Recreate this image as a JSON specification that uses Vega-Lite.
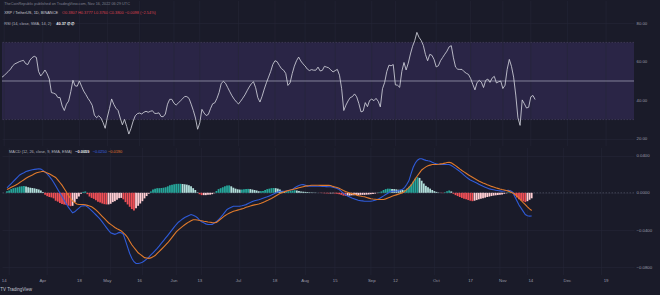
{
"$schema": "https://vega.github.io/schema/vega-lite/v6.json",
"background": "#1a1b29",
"padding": {"left": 0, "top": 0, "right": 0, "bottom": 4},
"spacing": 0,
"config": {
  "view": {"stroke": null},
  "font": "Liberation Sans",
  "axis": {"labelFont": "Liberation Sans", "labelFontSize": 4.3, "labelColor": "#9a9caa", "gridColor": "#252737", "gridWidth": 0.6, "domain": false, "ticks": false},
  "axisX": {"disable": true},
  "text": {"font": "Liberation Sans", "fontSize": 3.9}
},
"title": {"text": "TV TradingView", "orient": "bottom", "anchor": "start", "fontSize": 4.5, "fontWeight": "normal", "color": "#c3c5cf", "offset": 2, "font": "Liberation Sans"},
"datasets": {
"ticks": [
{"d":"2022-03-14","lab":"14"},{"d":"2022-04-01","lab":"Apr"},{"d":"2022-04-18","lab":"18"},{"d":"2022-05-01","lab":"May"},{"d":"2022-05-16","lab":"16"},{"d":"2022-06-01","lab":"Jun"},{"d":"2022-06-13","lab":"13"},{"d":"2022-07-01","lab":"Jul"},{"d":"2022-07-18","lab":"18"},{"d":"2022-08-01","lab":"Aug"},{"d":"2022-08-15","lab":"15"},{"d":"2022-09-01","lab":"Sep"},{"d":"2022-09-12","lab":"12"},{"d":"2022-10-01","lab":"Oct"},{"d":"2022-10-17","lab":"17"},{"d":"2022-11-01","lab":"Nov"},{"d":"2022-11-14","lab":"14"},{"d":"2022-12-01","lab":"Dec"},{"d":"2022-12-19","lab":"19"}
],
"xrp": [
{"t":"2022-03-13","r":52.0,"m":0.0054,"s":0.0035,"h":0.0017},
{"t":"2022-03-14","r":52.8,"m":0.0077,"s":0.0047,"h":0.0025},
{"t":"2022-03-15","r":54.0,"m":0.0100,"s":0.0059,"h":0.0040},
{"t":"2022-03-16","r":55.0,"m":0.0123,"s":0.0070,"h":0.0050},
{"t":"2022-03-17","r":56.2,"m":0.0146,"s":0.0082,"h":0.0055},
{"t":"2022-03-18","r":57.9,"m":0.0169,"s":0.0094,"h":0.0060},
{"t":"2022-03-19","r":58.9,"m":0.0192,"s":0.0111,"h":0.0068},
{"t":"2022-03-20","r":59.4,"m":0.0206,"s":0.0126,"h":0.0070},
{"t":"2022-03-21","r":60.0,"m":0.0217,"s":0.0141,"h":0.0072},
{"t":"2022-03-22","r":60.4,"m":0.0229,"s":0.0156,"h":0.0068},
{"t":"2022-03-23","r":60.7,"m":0.0236,"s":0.0169,"h":0.0060},
{"t":"2022-03-24","r":59.0,"m":0.0242,"s":0.0181,"h":0.0055},
{"t":"2022-03-25","r":58.5,"m":0.0248,"s":0.0192,"h":0.0052},
{"t":"2022-03-26","r":60.8,"m":0.0252,"s":0.0204,"h":0.0048},
{"t":"2022-03-27","r":62.1,"m":0.0255,"s":0.0215,"h":0.0042},
{"t":"2022-03-28","r":62.8,"m":0.0258,"s":0.0221,"h":0.0036},
{"t":"2022-03-29","r":62.2,"m":0.0255,"s":0.0226,"h":0.0025},
{"t":"2022-03-30","r":55.0,"m":0.0241,"s":0.0232,"h":0.0008},
{"t":"2022-03-31","r":52.6,"m":0.0223,"s":0.0223,"h":-0.0020},
{"t":"2022-04-01","r":54.0,"m":0.0203,"s":0.0214,"h":-0.0036},
{"t":"2022-04-02","r":55.7,"m":0.0178,"s":0.0205,"h":-0.0045},
{"t":"2022-04-03","r":53.7,"m":0.0148,"s":0.0192,"h":-0.0050},
{"t":"2022-04-04","r":51.0,"m":0.0114,"s":0.0178,"h":-0.0060},
{"t":"2022-04-05","r":44.0,"m":0.0075,"s":0.0165,"h":-0.0085},
{"t":"2022-04-06","r":43.7,"m":0.0036,"s":0.0140,"h":-0.0095},
{"t":"2022-04-07","r":43.2,"m":-0.0002,"s":0.0111,"h":-0.0110},
{"t":"2022-04-08","r":41.4,"m":-0.0040,"s":0.0083,"h":-0.0120},
{"t":"2022-04-09","r":41.4,"m":-0.0079,"s":0.0047,"h":-0.0126},
{"t":"2022-04-10","r":37.0,"m":-0.0118,"s":0.0011,"h":-0.0130},
{"t":"2022-04-11","r":34.7,"m":-0.0154,"s":-0.0028,"h":-0.0138},
{"t":"2022-04-12","r":38.0,"m":-0.0185,"s":-0.0059,"h":-0.0144},
{"t":"2022-04-13","r":39.6,"m":-0.0215,"s":-0.0090,"h":-0.0140},
{"t":"2022-04-14","r":44.5,"m":-0.0205,"s":-0.0105,"h":-0.0100},
{"t":"2022-04-15","r":50.4,"m":-0.0184,"s":-0.0121,"h":-0.0065},
{"t":"2022-04-16","r":47.5,"m":-0.0164,"s":-0.0126,"h":-0.0040},
{"t":"2022-04-17","r":47.3,"m":-0.0144,"s":-0.0126,"h":-0.0010},
{"t":"2022-04-18","r":50.0,"m":-0.0140,"s":-0.0126,"h":0.0010},
{"t":"2022-04-19","r":47.3,"m":-0.0138,"s":-0.0129,"h":0.0015},
{"t":"2022-04-20","r":44.8,"m":-0.0151,"s":-0.0135,"h":-0.0015},
{"t":"2022-04-21","r":43.0,"m":-0.0170,"s":-0.0141,"h":-0.0040},
{"t":"2022-04-22","r":41.0,"m":-0.0191,"s":-0.0151,"h":-0.0055},
{"t":"2022-04-23","r":39.4,"m":-0.0214,"s":-0.0166,"h":-0.0065},
{"t":"2022-04-24","r":37.3,"m":-0.0236,"s":-0.0183,"h":-0.0080},
{"t":"2022-04-25","r":32.3,"m":-0.0260,"s":-0.0206,"h":-0.0095},
{"t":"2022-04-26","r":31.0,"m":-0.0283,"s":-0.0229,"h":-0.0105},
{"t":"2022-04-27","r":32.0,"m":-0.0312,"s":-0.0253,"h":-0.0115},
{"t":"2022-04-28","r":30.9,"m":-0.0343,"s":-0.0276,"h":-0.0122},
{"t":"2022-04-29","r":28.5,"m":-0.0374,"s":-0.0299,"h":-0.0125},
{"t":"2022-04-30","r":25.5,"m":-0.0404,"s":-0.0322,"h":-0.0125},
{"t":"2022-05-01","r":31.3,"m":-0.0431,"s":-0.0339,"h":-0.0118},
{"t":"2022-05-02","r":35.7,"m":-0.0439,"s":-0.0356,"h":-0.0100},
{"t":"2022-05-03","r":40.7,"m":-0.0447,"s":-0.0373,"h":-0.0090},
{"t":"2022-05-04","r":37.9,"m":-0.0438,"s":-0.0386,"h":-0.0075},
{"t":"2022-05-05","r":35.9,"m":-0.0426,"s":-0.0398,"h":-0.0058},
{"t":"2022-05-06","r":34.7,"m":-0.0429,"s":-0.0410,"h":-0.0055},
{"t":"2022-05-07","r":30.8,"m":-0.0447,"s":-0.0430,"h":-0.0070},
{"t":"2022-05-08","r":27.3,"m":-0.0515,"s":-0.0452,"h":-0.0100},
{"t":"2022-05-09","r":30.1,"m":-0.0584,"s":-0.0480,"h":-0.0125},
{"t":"2022-05-10","r":26.5,"m":-0.0653,"s":-0.0520,"h":-0.0150},
{"t":"2022-05-11","r":22.5,"m":-0.0703,"s":-0.0559,"h":-0.0175},
{"t":"2022-05-12","r":25.4,"m":-0.0741,"s":-0.0588,"h":-0.0190},
{"t":"2022-05-13","r":29.2,"m":-0.0759,"s":-0.0617,"h":-0.0165},
{"t":"2022-05-14","r":32.0,"m":-0.0760,"s":-0.0645,"h":-0.0140},
{"t":"2022-05-15","r":33.1,"m":-0.0755,"s":-0.0662,"h":-0.0115},
{"t":"2022-05-16","r":33.4,"m":-0.0747,"s":-0.0680,"h":-0.0090},
{"t":"2022-05-17","r":32.9,"m":-0.0731,"s":-0.0697,"h":-0.0060},
{"t":"2022-05-18","r":33.8,"m":-0.0714,"s":-0.0701,"h":-0.0035},
{"t":"2022-05-19","r":34.3,"m":-0.0692,"s":-0.0705,"h":-0.0010},
{"t":"2022-05-20","r":33.8,"m":-0.0668,"s":-0.0700,"h":0.0015},
{"t":"2022-05-21","r":34.3,"m":-0.0645,"s":-0.0689,"h":0.0035},
{"t":"2022-05-22","r":34.6,"m":-0.0622,"s":-0.0675,"h":0.0045},
{"t":"2022-05-23","r":33.2,"m":-0.0598,"s":-0.0652,"h":0.0050},
{"t":"2022-05-24","r":33.2,"m":-0.0571,"s":-0.0629,"h":0.0050},
{"t":"2022-05-25","r":33.5,"m":-0.0542,"s":-0.0607,"h":0.0052},
{"t":"2022-05-26","r":31.6,"m":-0.0514,"s":-0.0584,"h":0.0055},
{"t":"2022-05-27","r":31.5,"m":-0.0485,"s":-0.0560,"h":0.0060},
{"t":"2022-05-28","r":32.9,"m":-0.0457,"s":-0.0537,"h":0.0070},
{"t":"2022-05-29","r":38.0,"m":-0.0428,"s":-0.0508,"h":0.0080},
{"t":"2022-05-30","r":40.5,"m":-0.0399,"s":-0.0479,"h":0.0088},
{"t":"2022-05-31","r":40.5,"m":-0.0370,"s":-0.0450,"h":0.0092},
{"t":"2022-06-01","r":38.5,"m":-0.0341,"s":-0.0420,"h":0.0096},
{"t":"2022-06-02","r":37.5,"m":-0.0316,"s":-0.0399,"h":0.0097},
{"t":"2022-06-03","r":38.6,"m":-0.0299,"s":-0.0380,"h":0.0097},
{"t":"2022-06-04","r":39.7,"m":-0.0281,"s":-0.0361,"h":0.0095},
{"t":"2022-06-05","r":40.8,"m":-0.0265,"s":-0.0343,"h":0.0092},
{"t":"2022-06-06","r":42.0,"m":-0.0254,"s":-0.0328,"h":0.0088},
{"t":"2022-06-07","r":41.9,"m":-0.0243,"s":-0.0313,"h":0.0080},
{"t":"2022-06-08","r":41.0,"m":-0.0234,"s":-0.0301,"h":0.0070},
{"t":"2022-06-09","r":38.0,"m":-0.0242,"s":-0.0290,"h":0.0050},
{"t":"2022-06-10","r":34.7,"m":-0.0251,"s":-0.0289,"h":0.0030},
{"t":"2022-06-11","r":30.8,"m":-0.0268,"s":-0.0293,"h":0.0005},
{"t":"2022-06-12","r":25.0,"m":-0.0294,"s":-0.0297,"h":-0.0015},
{"t":"2022-06-13","r":28.3,"m":-0.0311,"s":-0.0300,"h":-0.0025},
{"t":"2022-06-14","r":35.3,"m":-0.0323,"s":-0.0305,"h":-0.0025},
{"t":"2022-06-15","r":33.4,"m":-0.0334,"s":-0.0309,"h":-0.0025},
{"t":"2022-06-16","r":32.1,"m":-0.0341,"s":-0.0314,"h":-0.0022},
{"t":"2022-06-17","r":32.7,"m":-0.0341,"s":-0.0317,"h":-0.0020},
{"t":"2022-06-18","r":35.7,"m":-0.0340,"s":-0.0321,"h":-0.0015},
{"t":"2022-06-19","r":38.2,"m":-0.0324,"s":-0.0322,"h":-0.0005},
{"t":"2022-06-20","r":38.7,"m":-0.0309,"s":-0.0318,"h":0.0020},
{"t":"2022-06-21","r":41.0,"m":-0.0288,"s":-0.0300,"h":0.0040},
{"t":"2022-06-22","r":44.1,"m":-0.0265,"s":-0.0282,"h":0.0050},
{"t":"2022-06-23","r":48.8,"m":-0.0238,"s":-0.0264,"h":0.0060},
{"t":"2022-06-24","r":49.8,"m":-0.0207,"s":-0.0246,"h":0.0070},
{"t":"2022-06-25","r":48.8,"m":-0.0179,"s":-0.0232,"h":0.0078},
{"t":"2022-06-26","r":46.6,"m":-0.0167,"s":-0.0220,"h":0.0080},
{"t":"2022-06-27","r":44.4,"m":-0.0155,"s":-0.0209,"h":0.0070},
{"t":"2022-06-28","r":42.3,"m":-0.0144,"s":-0.0198,"h":0.0055},
{"t":"2022-06-29","r":40.6,"m":-0.0144,"s":-0.0192,"h":0.0045},
{"t":"2022-06-30","r":39.2,"m":-0.0144,"s":-0.0186,"h":0.0038},
{"t":"2022-07-01","r":38.1,"m":-0.0144,"s":-0.0180,"h":0.0035},
{"t":"2022-07-02","r":39.5,"m":-0.0139,"s":-0.0173,"h":0.0035},
{"t":"2022-07-03","r":41.1,"m":-0.0133,"s":-0.0165,"h":0.0038},
{"t":"2022-07-04","r":42.8,"m":-0.0127,"s":-0.0156,"h":0.0040},
{"t":"2022-07-05","r":44.9,"m":-0.0116,"s":-0.0149,"h":0.0042},
{"t":"2022-07-06","r":46.9,"m":-0.0105,"s":-0.0142,"h":0.0040},
{"t":"2022-07-07","r":48.6,"m":-0.0093,"s":-0.0135,"h":0.0035},
{"t":"2022-07-08","r":49.6,"m":-0.0086,"s":-0.0130,"h":0.0030},
{"t":"2022-07-09","r":46.5,"m":-0.0080,"s":-0.0125,"h":0.0025},
{"t":"2022-07-10","r":41.4,"m":-0.0074,"s":-0.0120,"h":0.0018},
{"t":"2022-07-11","r":39.1,"m":-0.0067,"s":-0.0112,"h":0.0018},
{"t":"2022-07-12","r":42.1,"m":-0.0059,"s":-0.0103,"h":0.0020},
{"t":"2022-07-13","r":45.8,"m":-0.0051,"s":-0.0094,"h":0.0030},
{"t":"2022-07-14","r":49.1,"m":-0.0043,"s":-0.0084,"h":0.0040},
{"t":"2022-07-15","r":52.0,"m":-0.0033,"s":-0.0072,"h":0.0045},
{"t":"2022-07-16","r":55.0,"m":-0.0023,"s":-0.0061,"h":0.0050},
{"t":"2022-07-17","r":58.6,"m":-0.0013,"s":-0.0048,"h":0.0052},
{"t":"2022-07-18","r":60.5,"m":-0.0002,"s":-0.0034,"h":0.0050},
{"t":"2022-07-19","r":60.0,"m":0.0009,"s":-0.0020,"h":0.0045},
{"t":"2022-07-20","r":58.1,"m":0.0017,"s":-0.0008,"h":0.0035},
{"t":"2022-07-21","r":56.4,"m":0.0017,"s":0.0001,"h":0.0020},
{"t":"2022-07-22","r":55.6,"m":0.0017,"s":0.0010,"h":0.0015},
{"t":"2022-07-23","r":53.9,"m":0.0018,"s":0.0018,"h":0.0015},
{"t":"2022-07-24","r":47.7,"m":0.0025,"s":0.0024,"h":0.0018},
{"t":"2022-07-25","r":49.0,"m":0.0030,"s":0.0030,"h":0.0020},
{"t":"2022-07-26","r":53.8,"m":0.0037,"s":0.0036,"h":0.0025},
{"t":"2022-07-27","r":57.7,"m":0.0054,"s":0.0042,"h":0.0028},
{"t":"2022-07-28","r":60.5,"m":0.0069,"s":0.0048,"h":0.0025},
{"t":"2022-07-29","r":62.4,"m":0.0078,"s":0.0054,"h":0.0020},
{"t":"2022-07-30","r":60.4,"m":0.0086,"s":0.0060,"h":0.0015},
{"t":"2022-07-31","r":58.9,"m":0.0088,"s":0.0066,"h":0.0012},
{"t":"2022-08-01","r":57.8,"m":0.0081,"s":0.0072,"h":0.0010},
{"t":"2022-08-02","r":56.2,"m":0.0072,"s":0.0075,"h":0.0008},
{"t":"2022-08-03","r":55.4,"m":0.0072,"s":0.0078,"h":0.0005},
{"t":"2022-08-04","r":55.9,"m":0.0072,"s":0.0082,"h":0.0004},
{"t":"2022-08-05","r":55.6,"m":0.0072,"s":0.0082,"h":0.0003},
{"t":"2022-08-06","r":55.6,"m":0.0072,"s":0.0081,"h":0.0002},
{"t":"2022-08-07","r":57.2,"m":0.0071,"s":0.0081,"h":0.0002},
{"t":"2022-08-08","r":55.2,"m":0.0070,"s":0.0080,"h":-0.0002},
{"t":"2022-08-09","r":55.5,"m":0.0069,"s":0.0080,"h":-0.0003},
{"t":"2022-08-10","r":57.6,"m":0.0068,"s":0.0080,"h":-0.0005},
{"t":"2022-08-11","r":57.2,"m":0.0067,"s":0.0080,"h":-0.0006},
{"t":"2022-08-12","r":56.8,"m":0.0066,"s":0.0080,"h":-0.0007},
{"t":"2022-08-13","r":55.7,"m":0.0065,"s":0.0078,"h":-0.0006},
{"t":"2022-08-14","r":54.7,"m":0.0061,"s":0.0069,"h":-0.0005},
{"t":"2022-08-15","r":55.4,"m":0.0054,"s":0.0063,"h":-0.0008},
{"t":"2022-08-16","r":56.0,"m":0.0047,"s":0.0057,"h":-0.0010},
{"t":"2022-08-17","r":53.0,"m":0.0035,"s":0.0049,"h":-0.0015},
{"t":"2022-08-18","r":46.0,"m":0.0016,"s":0.0037,"h":-0.0022},
{"t":"2022-08-19","r":34.7,"m":-0.0006,"s":0.0025,"h":-0.0030},
{"t":"2022-08-20","r":37.5,"m":-0.0022,"s":0.0014,"h":-0.0033},
{"t":"2022-08-21","r":39.7,"m":-0.0034,"s":0.0006,"h":-0.0032},
{"t":"2022-08-22","r":41.4,"m":-0.0045,"s":-0.0002,"h":-0.0030},
{"t":"2022-08-23","r":41.9,"m":-0.0056,"s":-0.0009,"h":-0.0027},
{"t":"2022-08-24","r":43.3,"m":-0.0064,"s":-0.0016,"h":-0.0025},
{"t":"2022-08-25","r":41.8,"m":-0.0072,"s":-0.0023,"h":-0.0024},
{"t":"2022-08-26","r":38.3,"m":-0.0080,"s":-0.0030,"h":-0.0023},
{"t":"2022-08-27","r":34.0,"m":-0.0084,"s":-0.0034,"h":-0.0022},
{"t":"2022-08-28","r":34.4,"m":-0.0087,"s":-0.0039,"h":-0.0022},
{"t":"2022-08-29","r":38.8,"m":-0.0090,"s":-0.0043,"h":-0.0022},
{"t":"2022-08-30","r":36.7,"m":-0.0090,"s":-0.0050,"h":-0.0020},
{"t":"2022-08-31","r":39.9,"m":-0.0090,"s":-0.0057,"h":-0.0018},
{"t":"2022-09-01","r":40.6,"m":-0.0090,"s":-0.0064,"h":-0.0015},
{"t":"2022-09-02","r":39.8,"m":-0.0085,"s":-0.0067,"h":-0.0012},
{"t":"2022-09-03","r":41.0,"m":-0.0079,"s":-0.0069,"h":-0.0008},
{"t":"2022-09-04","r":39.5,"m":-0.0073,"s":-0.0072,"h":-0.0003},
{"t":"2022-09-05","r":36.6,"m":-0.0061,"s":-0.0072,"h":0.0005},
{"t":"2022-09-06","r":46.0,"m":-0.0047,"s":-0.0072,"h":0.0015},
{"t":"2022-09-07","r":49.2,"m":-0.0033,"s":-0.0072,"h":0.0030},
{"t":"2022-09-08","r":54.9,"m":-0.0018,"s":-0.0065,"h":0.0040},
{"t":"2022-09-09","r":58.2,"m":-0.0004,"s":-0.0056,"h":0.0045},
{"t":"2022-09-10","r":57.9,"m":0.0011,"s":-0.0047,"h":0.0045},
{"t":"2022-09-11","r":58.5,"m":0.0017,"s":-0.0038,"h":0.0042},
{"t":"2022-09-12","r":48.0,"m":0.0017,"s":-0.0030,"h":0.0040},
{"t":"2022-09-13","r":47.8,"m":0.0017,"s":-0.0022,"h":0.0037},
{"t":"2022-09-14","r":46.7,"m":0.0021,"s":-0.0014,"h":0.0033},
{"t":"2022-09-15","r":55.0,"m":0.0030,"s":-0.0006,"h":0.0032},
{"t":"2022-09-16","r":59.6,"m":0.0038,"s":0.0002,"h":0.0030},
{"t":"2022-09-17","r":55.7,"m":0.0058,"s":0.0016,"h":0.0032},
{"t":"2022-09-18","r":59.3,"m":0.0092,"s":0.0037,"h":0.0045},
{"t":"2022-09-19","r":64.0,"m":0.0131,"s":0.0058,"h":0.0065},
{"t":"2022-09-20","r":68.0,"m":0.0206,"s":0.0082,"h":0.0090},
{"t":"2022-09-21","r":70.9,"m":0.0275,"s":0.0117,"h":0.0120},
{"t":"2022-09-22","r":75.2,"m":0.0321,"s":0.0152,"h":0.0150},
{"t":"2022-09-23","r":72.6,"m":0.0350,"s":0.0183,"h":0.0168},
{"t":"2022-09-24","r":71.0,"m":0.0366,"s":0.0214,"h":0.0160},
{"t":"2022-09-25","r":68.4,"m":0.0366,"s":0.0246,"h":0.0130},
{"t":"2022-09-26","r":63.7,"m":0.0357,"s":0.0263,"h":0.0100},
{"t":"2022-09-27","r":60.5,"m":0.0349,"s":0.0279,"h":0.0075},
{"t":"2022-09-28","r":63.8,"m":0.0344,"s":0.0290,"h":0.0060},
{"t":"2022-09-29","r":63.3,"m":0.0340,"s":0.0298,"h":0.0045},
{"t":"2022-09-30","r":61.1,"m":0.0329,"s":0.0304,"h":0.0030},
{"t":"2022-10-01","r":57.3,"m":0.0319,"s":0.0304,"h":0.0018},
{"t":"2022-10-02","r":57.9,"m":0.0312,"s":0.0304,"h":0.0010},
{"t":"2022-10-03","r":60.5,"m":0.0307,"s":0.0307,"h":0.0003},
{"t":"2022-10-04","r":62.2,"m":0.0304,"s":0.0311,"h":-0.0002},
{"t":"2022-10-05","r":63.9,"m":0.0304,"s":0.0314,"h":-0.0003},
{"t":"2022-10-06","r":65.5,"m":0.0304,"s":0.0319,"h":0.0005},
{"t":"2022-10-07","r":67.7,"m":0.0304,"s":0.0326,"h":0.0018},
{"t":"2022-10-08","r":68.3,"m":0.0304,"s":0.0328,"h":0.0025},
{"t":"2022-10-09","r":62.0,"m":0.0294,"s":0.0322,"h":0.0015},
{"t":"2022-10-10","r":57.2,"m":0.0279,"s":0.0308,"h":-0.0010},
{"t":"2022-10-11","r":56.1,"m":0.0263,"s":0.0292,"h":-0.0025},
{"t":"2022-10-12","r":56.0,"m":0.0248,"s":0.0275,"h":-0.0035},
{"t":"2022-10-13","r":56.0,"m":0.0231,"s":0.0257,"h":-0.0045},
{"t":"2022-10-14","r":54.8,"m":0.0211,"s":0.0240,"h":-0.0055},
{"t":"2022-10-15","r":54.0,"m":0.0191,"s":0.0225,"h":-0.0063},
{"t":"2022-10-16","r":53.4,"m":0.0171,"s":0.0210,"h":-0.0070},
{"t":"2022-10-17","r":51.3,"m":0.0154,"s":0.0195,"h":-0.0078},
{"t":"2022-10-18","r":48.3,"m":0.0138,"s":0.0180,"h":-0.0085},
{"t":"2022-10-19","r":45.4,"m":0.0127,"s":0.0167,"h":-0.0090},
{"t":"2022-10-20","r":49.2,"m":0.0116,"s":0.0153,"h":-0.0085},
{"t":"2022-10-21","r":50.3,"m":0.0105,"s":0.0140,"h":-0.0078},
{"t":"2022-10-22","r":49.4,"m":0.0093,"s":0.0128,"h":-0.0070},
{"t":"2022-10-23","r":46.6,"m":0.0082,"s":0.0117,"h":-0.0065},
{"t":"2022-10-24","r":50.3,"m":0.0070,"s":0.0106,"h":-0.0058},
{"t":"2022-10-25","r":51.0,"m":0.0061,"s":0.0097,"h":-0.0052},
{"t":"2022-10-26","r":49.3,"m":0.0052,"s":0.0087,"h":-0.0045},
{"t":"2022-10-27","r":51.5,"m":0.0042,"s":0.0078,"h":-0.0040},
{"t":"2022-10-28","r":52.4,"m":0.0037,"s":0.0069,"h":-0.0035},
{"t":"2022-10-29","r":49.0,"m":0.0033,"s":0.0062,"h":-0.0030},
{"t":"2022-10-30","r":49.6,"m":0.0028,"s":0.0054,"h":-0.0027},
{"t":"2022-10-31","r":50.0,"m":0.0024,"s":0.0048,"h":-0.0024},
{"t":"2022-11-01","r":46.1,"m":0.0021,"s":0.0041,"h":-0.0020},
{"t":"2022-11-02","r":47.8,"m":0.0017,"s":0.0035,"h":-0.0018},
{"t":"2022-11-03","r":56.0,"m":0.0020,"s":0.0030,"h":-0.0010},
{"t":"2022-11-04","r":61.2,"m":0.0024,"s":0.0024,"h":-0.0005},
{"t":"2022-11-05","r":57.6,"m":0.0028,"s":0.0018,"h":0.0005},
{"t":"2022-11-06","r":52.0,"m":0.0022,"s":0.0008,"h":0.0008},
{"t":"2022-11-07","r":42.7,"m":0.0007,"s":-0.0003,"h":0.0005},
{"t":"2022-11-08","r":31.0,"m":-0.0040,"s":-0.0014,"h":-0.0030},
{"t":"2022-11-09","r":27.0,"m":-0.0085,"s":-0.0034,"h":-0.0050},
{"t":"2022-11-10","r":40.2,"m":-0.0131,"s":-0.0057,"h":-0.0070},
{"t":"2022-11-11","r":38.2,"m":-0.0165,"s":-0.0081,"h":-0.0082},
{"t":"2022-11-12","r":36.0,"m":-0.0200,"s":-0.0105,"h":-0.0092},
{"t":"2022-11-13","r":36.4,"m":-0.0234,"s":-0.0127,"h":-0.0100},
{"t":"2022-11-14","r":41.8,"m":-0.0246,"s":-0.0151,"h":-0.0090},
{"t":"2022-11-15","r":42.5,"m":-0.0251,"s":-0.0173,"h":-0.0075},
{"t":"2022-11-16","r":40.4,"m":-0.0250,"s":-0.0190,"h":-0.0059}
]
},
"vconcat": [
{
  "width": 632,
  "height": 145,
  "layer": [
    {
      "data": {"values": [{}]},
      "mark": {"type": "rect", "color": "#2a2546"},
      "encoding": {"y": {"datum": 30, "type": "quantitative"}, "y2": {"datum": 70}}
    },
    {
      "data": {"name": "ticks"},
      "mark": {"type": "rule", "color": "#252737", "strokeWidth": 0.6},
      "encoding": {
        "x": {"field": "d", "type": "temporal",
              "scale": {"type": "utc", "domain": [{"year": 2022, "month": 3, "date": 13, "utc": true}, {"year": 2023, "month": 1, "date": 1, "utc": true}]},
              "axis": null}
      }
    },
    {
      "data": {"values": [{}]},
      "mark": {"type": "rule", "color": "#4d4866", "strokeWidth": 0.6, "strokeDash": [1.5, 1.5]},
      "encoding": {"y": {"datum": 70, "type": "quantitative",
              "scale": {"domain": [16.32, 91.45], "nice": false, "zero": false},
              "axis": {"orient": "right", "title": null, "values": [20, 30, 40, 50, 60, 70, 80, 86.27], "labelExpr": "datum.value > 85 ? 'USDT' : format(datum.value, '.2f')", "labelPadding": 2, "minExtent": 28, "maxExtent": 28, "grid": true}}}
    },
    {
      "data": {"values": [{}]},
      "mark": {"type": "rule", "color": "#4d4866", "strokeWidth": 0.6, "strokeDash": [1.5, 1.5]},
      "encoding": {"y": {"datum": 30, "type": "quantitative"}}
    },
    {
      "data": {"values": [{}]},
      "mark": {"type": "rule", "color": "#9c9cb0", "strokeWidth": 0.8},
      "encoding": {"y": {"datum": 50, "type": "quantitative"}}
    },
    {
      "data": {"name": "xrp"},
      "mark": {"type": "line", "color": "#d0d1da", "strokeWidth": 0.85},
      "encoding": {"x": {"field": "t", "type": "temporal", "axis": null}, "y": {"field": "r", "type": "quantitative"}}
    },
    {
      "data": {"values": [{"txt": "TheCoinRepublic published on TradingView.com, Nov 16, 2022 06:29 UTC"}]},
      "mark": {"type": "text", "align": "left", "baseline": "middle", "color": "#7f828f", "fontSize": 3.8},
      "encoding": {"x": {"datum": {"year": 2022, "month": 3, "date": 14, "utc": true}, "type": "temporal", "axis": null}, "y": {"datum": 89.9, "type": "quantitative"}, "text": {"field": "txt"}}
    },
    {
      "data": {"values": [{"txt": "XRP / TetherUS, 1D, BINANCE"}]},
      "mark": {"type": "text", "align": "left", "baseline": "middle", "color": "#c8cad3"},
      "encoding": {"x": {"datum": {"year": 2022, "month": 3, "date": 14, "utc": true}, "type": "temporal", "axis": null}, "y": {"datum": 85.2, "type": "quantitative"}, "text": {"field": "txt"}}
    },
    {
      "data": {"values": [{"txt": "O0.3807  H0.3777  L0.3760  C0.3800  −0.0098 (−2.54%)"}]},
      "mark": {"type": "text", "align": "left", "baseline": "middle", "color": "#d9404e"},
      "encoding": {"x": {"datum": {"year": 2022, "month": 4, "date": 9, "hours": 22, "utc": true}, "type": "temporal", "axis": null}, "y": {"datum": 85.2, "type": "quantitative"}, "text": {"field": "txt"}}
    },
    {
      "data": {"values": [{"txt": "RSI (14, close, SMA, 14, 2)"}]},
      "mark": {"type": "text", "align": "left", "baseline": "middle", "color": "#b0b2bd"},
      "encoding": {"x": {"datum": {"year": 2022, "month": 3, "date": 14, "utc": true}, "type": "temporal", "axis": null}, "y": {"datum": 79.5, "type": "quantitative"}, "text": {"field": "txt"}}
    },
    {
      "data": {"values": [{"txt": "40.37  ∅  ∅"}]},
      "mark": {"type": "text", "align": "left", "baseline": "middle", "color": "#e8e9ee", "fontWeight": "bold"},
      "encoding": {"x": {"datum": {"year": 2022, "month": 4, "date": 7, "hours": 6, "utc": true}, "type": "temporal", "axis": null}, "y": {"datum": 79.5, "type": "quantitative"}, "text": {"field": "txt"}}
    }
  ]
},
{
  "width": 632,
  "height": 127,
  "layer": [
    {
      "data": {"name": "ticks"},
      "mark": {"type": "rule", "color": "#252737", "strokeWidth": 0.6},
      "encoding": {
        "x": {"field": "d", "type": "temporal",
              "scale": {"type": "utc", "domain": [{"year": 2022, "month": 3, "date": 13, "utc": true}, {"year": 2023, "month": 1, "date": 1, "utc": true}]},
              "axis": null}
      }
    },
    {
      "data": {"values": [{}]},
      "mark": {"type": "rule", "color": "#5d6070", "strokeWidth": 0.6, "strokeDash": [1.5, 1.5]},
      "encoding": {"y": {"datum": 0, "type": "quantitative", "scale": {"domain": [-0.0884, 0.0482], "nice": false, "zero": false},
              "axis": {"orient": "right", "title": null, "values": [-0.08, -0.06, -0.04, -0.02, 0, 0.02, 0.04], "format": ".4f", "labelPadding": 2, "minExtent": 28, "maxExtent": 28, "grid": true}}}
    },
    {
      "data": {"name": "xrp"},
      "transform": [{"window": [{"op": "lag", "field": "h", "as": "hp"}], "sort": [{"field": "t"}]}],
      "mark": {"type": "bar", "size": 1.8},
      "encoding": {
        "x": {"field": "t", "type": "temporal", "axis": null},
        "y": {"field": "h", "type": "quantitative"},
        "color": {"condition": [
            {"test": "datum.h >= 0 && (datum.hp == null || datum.h >= datum.hp)", "value": "#26a69a"},
            {"test": "datum.h >= 0", "value": "#b2dfdb"},
            {"test": "datum.h < datum.hp", "value": "#f04f56"}
          ], "value": "#ffcdd2"}
      }
    },
    {
      "data": {"name": "xrp"},
      "mark": {"type": "line", "color": "#2f5bd8", "strokeWidth": 1.1},
      "encoding": {"x": {"field": "t", "type": "temporal", "axis": null}, "y": {"field": "m", "type": "quantitative"}}
    },
    {
      "data": {"name": "xrp"},
      "mark": {"type": "line", "color": "#e07a2c", "strokeWidth": 1.1},
      "encoding": {"x": {"field": "t", "type": "temporal", "axis": null}, "y": {"field": "s", "type": "quantitative"}}
    },
    {
      "data": {"values": [{"txt": "MACD (12, 26, close, 9, EMA, EMA)"}]},
      "mark": {"type": "text", "align": "left", "baseline": "middle", "color": "#b0b2bd"},
      "encoding": {"x": {"datum": {"year": 2022, "month": 3, "date": 14, "utc": true}, "type": "temporal", "axis": null}, "y": {"datum": 0.0444, "type": "quantitative"}, "text": {"field": "txt"}}
    },
    {
      "data": {"values": [{"txt": "−0.0059"}]},
      "mark": {"type": "text", "align": "left", "baseline": "middle", "color": "#e8e9ee", "fontWeight": "bold"},
      "encoding": {"x": {"datum": {"year": 2022, "month": 4, "date": 14, "hours": 6, "utc": true}, "type": "temporal", "axis": null}, "y": {"datum": 0.0444, "type": "quantitative"}, "text": {"field": "txt"}}
    },
    {
      "data": {"values": [{"txt": "−0.0250"}]},
      "mark": {"type": "text", "align": "left", "baseline": "middle", "color": "#3b66e0"},
      "encoding": {"x": {"datum": {"year": 2022, "month": 4, "date": 22, "hours": 12, "utc": true}, "type": "temporal", "axis": null}, "y": {"datum": 0.0444, "type": "quantitative"}, "text": {"field": "txt"}}
    },
    {
      "data": {"values": [{"txt": "−0.0190"}]},
      "mark": {"type": "text", "align": "left", "baseline": "middle", "color": "#e07a2c"},
      "encoding": {"x": {"datum": {"year": 2022, "month": 4, "date": 29, "hours": 18, "utc": true}, "type": "temporal", "axis": null}, "y": {"datum": 0.0444, "type": "quantitative"}, "text": {"field": "txt"}}
    }
  ]
},
{
  "width": 632,
  "height": 9,
  "data": {"name": "ticks"},
  "mark": {"type": "text", "align": "center", "baseline": "middle", "color": "#9a9caa", "fontSize": 4.3},
  "encoding": {
    "x": {"field": "d", "type": "temporal",
          "scale": {"type": "utc", "domain": [{"year": 2022, "month": 3, "date": 13, "utc": true}, {"year": 2023, "month": 1, "date": 1, "utc": true}]},
          "axis": null},
    "y": {"datum": 0.5, "type": "quantitative", "scale": {"domain": [0, 1]}, "axis": null},
    "text": {"field": "lab"}
  }
}
]
}
